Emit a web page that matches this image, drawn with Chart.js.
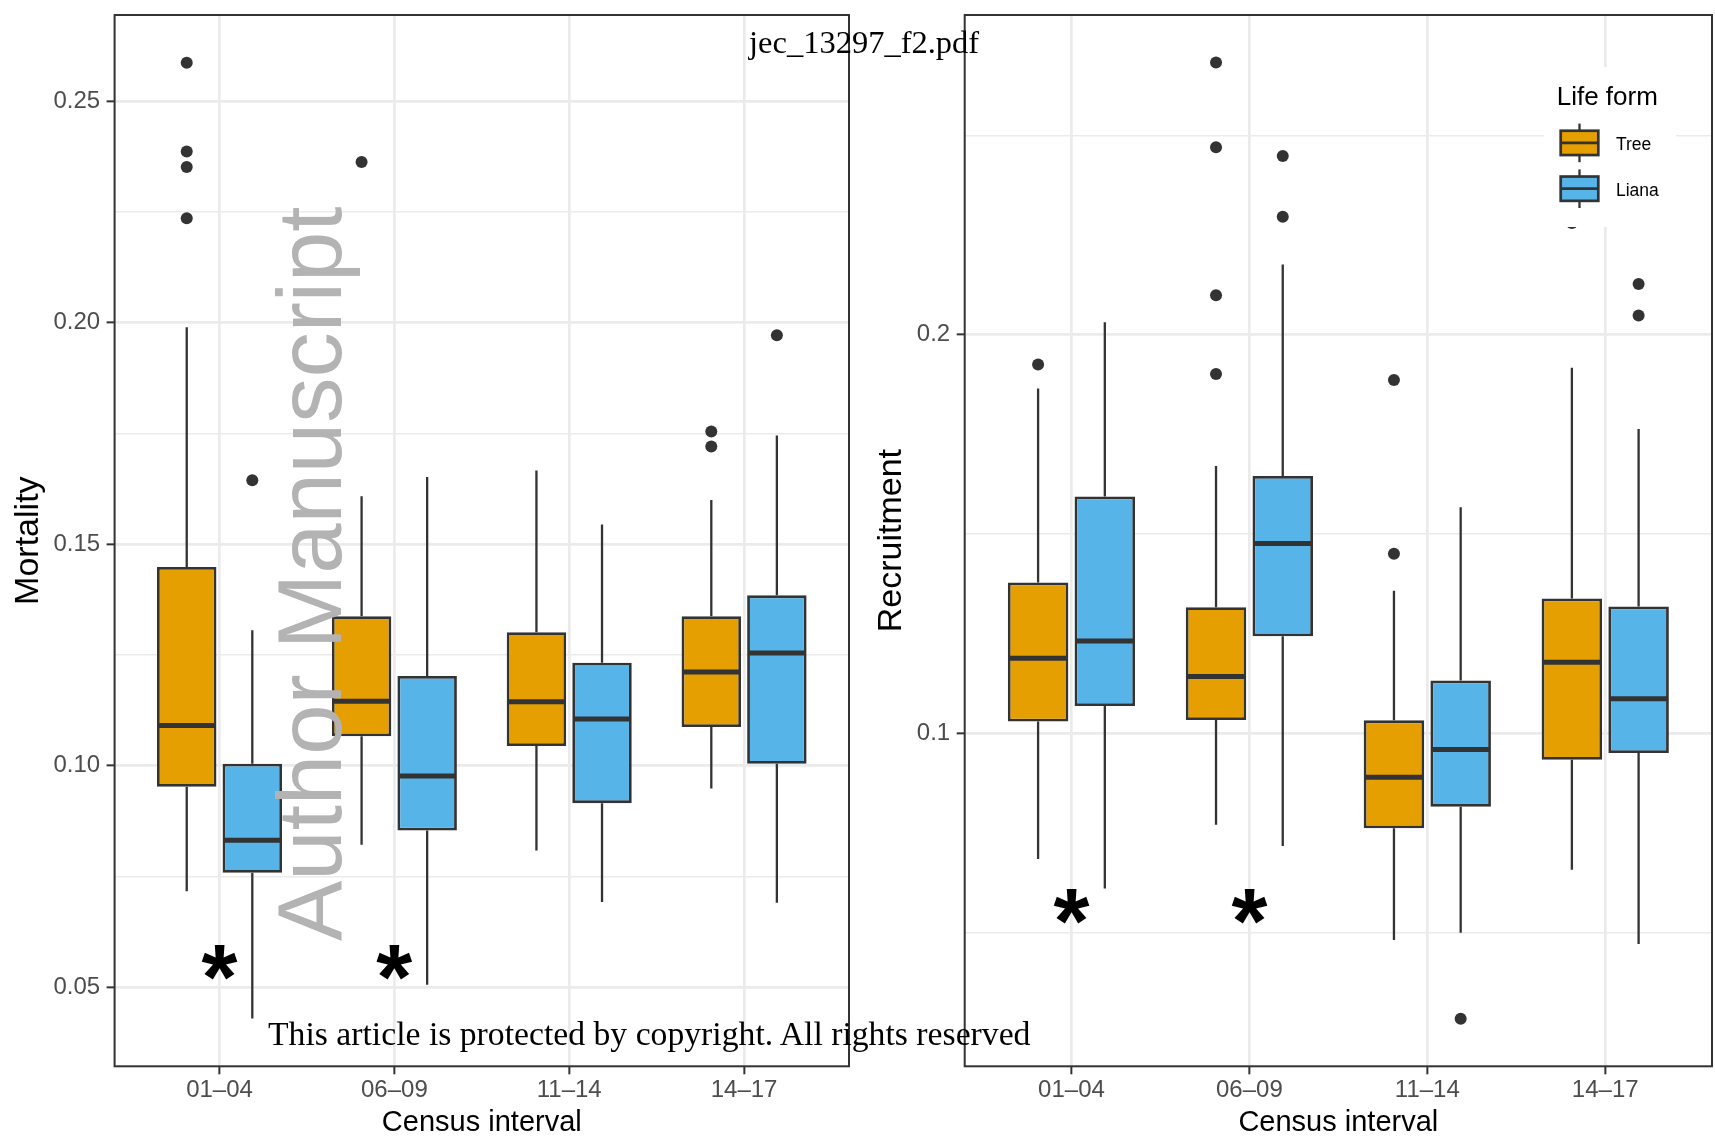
<!DOCTYPE html>
<html><head><meta charset="utf-8">
<script src="https://cdn.jsdelivr.net/npm/chart.js@4.4.0/dist/chart.umd.min.js"></script>
<style>
html,body{margin:0;padding:0;background:#fff;overflow:hidden;}
#page{position:relative;width:1715px;height:1137px;overflow:hidden;background:#fff;}
canvas{position:absolute;top:0;}
.ov{position:absolute;white-space:nowrap;line-height:1;}
#wm{font-family:'Liberation Sans',Arial,sans-serif;font-size:90.5px;color:#b3b3b3;left:265px;top:941px;transform-origin:0 0;transform:rotate(-90deg);}
#jec{font-family:'Liberation Serif','Times New Roman',serif;font-size:32.5px;color:#000;left:749px;top:26px;}
#copy{font-family:'Liberation Serif','Times New Roman',serif;font-size:33.7px;color:#000;left:268px;top:1017px;}
</style></head><body>
<div id="page">
<canvas id="mort" width="857" height="1137" style="left:0px;width:857px;height:1137px"></canvas>
<canvas id="recr" width="858" height="1137" style="left:857px;width:858px;height:1137px"></canvas>
<div class="ov" id="wm">Author Manuscript</div>
<div class="ov" id="jec">jec_13297_f2.pdf</div>
<div class="ov" id="copy">This article is protected by copyright. All rights reserved</div>
</div>
<script>
// ---------------- data ----------------
const categories = ['01–04', '06–09', '11–14', '14–17'];
const seriesNames = ['Tree', 'Liana'];

// Mortality (left panel)
const mortTreeLow    = [0.0716, 0.0821, 0.0808, 0.0948];
const mortTreeQ1     = [0.0952, 0.1066, 0.1044, 0.1087];
const mortTreeMedian = [0.1090, 0.1145, 0.1144, 0.1211];
const mortTreeQ3     = [0.1448, 0.1337, 0.1301, 0.1337];
const mortTreeHigh   = [0.1989, 0.1608, 0.1666, 0.1599];
const mortTreeOut    = [[0.2586, 0.2386, 0.2351, 0.2235], [0.2362], [], [0.1754, 0.1720]];

const mortLianaLow    = [0.0429, 0.0505, 0.0692, 0.0690];
const mortLianaQ1     = [0.0758, 0.0853, 0.0915, 0.1004];
const mortLianaMedian = [0.0831, 0.0976, 0.1105, 0.1254];
const mortLianaQ3     = [0.1004, 0.1202, 0.1232, 0.1384];
const mortLianaHigh   = [0.1305, 0.1651, 0.1544, 0.1745];
const mortLianaOut    = [[0.1644], [], [], [0.1971]];

const mortMajorTicks = [0.05, 0.10, 0.15, 0.20, 0.25];
const mortTickLabels = ['0.05', '0.10', '0.15', '0.20', '0.25'];
const mortMinorTicks = [0.075, 0.125, 0.175, 0.225];
const mortStarCats = ['01–04', '06–09'];
const mortStarY = 0.0555;

// Recruitment (right panel)
const recTreeLow    = [0.0684, 0.0770, 0.0481, 0.0657];
const recTreeQ1     = [0.1029, 0.1033, 0.0761, 0.0933];
const recTreeMedian = [0.1188, 0.1142, 0.0889, 0.1178];
const recTreeQ3     = [0.1378, 0.1316, 0.1032, 0.1338];
const recTreeHigh   = [0.1865, 0.1670, 0.1357, 0.1917];
const recTreeOut    = [[0.1925], [0.2683, 0.2470, 0.2099, 0.1901], [0.1886, 0.1450], [0.2280]];

const recLianaLow    = [0.0610, 0.0717, 0.0499, 0.0471];
const recLianaQ1     = [0.1068, 0.1243, 0.0815, 0.0950];
const recLianaMedian = [0.1231, 0.1476, 0.0959, 0.1086];
const recLianaQ3     = [0.1594, 0.1645, 0.1132, 0.1318];
const recLianaHigh   = [0.2031, 0.2176, 0.1567, 0.1763];
const recLianaOut    = [[], [0.2448, 0.2296], [0.0283], [0.2127, 0.2048]];

const recMajorTicks = [0.1, 0.2];
const recTickLabels = ['0.1', '0.2'];
const recMinorTicks = [0.05, 0.15, 0.25];
const recStarCats = ['01–04', '06–09'];
const recStarY = 0.0564;

// ---------------- styling ----------------
const FONT = "'Liberation Sans', Arial, sans-serif";
const colTree = '#E69F00', colLiana = '#56B4E9', ink = '#333333';
const dodgeWidth = 0.75;       // position_dodge width
const boxFrac = 0.907;         // box width share of dodge slot
Chart.defaults.font.family = FONT;

function boxData(q1, q3) { return q1.map((v, i) => ({ x: i + 1, y: [v, q3[i]] })); }
function outlierData(outs, shift) {
  const pts = [];
  outs.forEach((arr, i) => arr.forEach(v => pts.push({ x: i + 1 + shift, y: v })));
  return pts;
}

function makeChart(id, spec) {
  const canvasLeft = spec.canvasLeft;
  const isMajor = v => spec.major.some(m => Math.abs(m - v) < 1e-9);
  const plugin = {
    id: 'boxExtras',
    beforeDatasetsDraw(chart) {
      const ctx = chart.ctx, ys = chart.scales.y;
      ctx.save();
      ctx.strokeStyle = ink; ctx.lineWidth = 2.3; ctx.lineCap = 'butt';
      spec.series.forEach((s, d) => {
        chart.getDatasetMeta(d).data.forEach((el, i) => {
          const x = el.x;
          ctx.beginPath();
          ctx.moveTo(x, ys.getPixelForValue(s.q3[i])); ctx.lineTo(x, ys.getPixelForValue(s.hi[i]));
          ctx.moveTo(x, ys.getPixelForValue(s.q1[i])); ctx.lineTo(x, ys.getPixelForValue(s.lo[i]));
          ctx.stroke();
        });
      });
      ctx.restore();
    },
    afterDatasetsDraw(chart) {
      const ctx = chart.ctx, ys = chart.scales.y, a = chart.chartArea;
      ctx.save();
      // medians
      ctx.strokeStyle = ink; ctx.lineWidth = 5;
      spec.series.forEach((s, d) => {
        chart.getDatasetMeta(d).data.forEach((el, i) => {
          const y = ys.getPixelForValue(s.med[i]);
          ctx.beginPath();
          ctx.moveTo(el.x - el.width / 2 + 1, y); ctx.lineTo(el.x + el.width / 2 - 1, y);
          ctx.stroke();
        });
      });
      // legend
      if (spec.legend) {
        const L = spec.legend, ox = canvasLeft;
        ctx.fillStyle = '#ffffff';
        ctx.fillRect(L.x0 - ox, L.y0, L.x1 - L.x0, L.y1 - L.y0);
        ctx.fillStyle = '#000';
        ctx.font = `26px ${FONT}`; ctx.textBaseline = 'alphabetic'; ctx.textAlign = 'left';
        ctx.fillText(spec.legendTitle, L.titleX - ox, L.titleBase);
        spec.series.forEach((s, k) => {
          const cy = L.keyCenters[k], cx = (L.keyX0 + L.keyX1) / 2 - ox;
          ctx.strokeStyle = ink; ctx.lineWidth = 2.3;
          ctx.beginPath(); ctx.moveTo(cx, cy - L.whisk); ctx.lineTo(cx, cy + L.whisk); ctx.stroke();
          ctx.fillStyle = s.color;
          ctx.fillRect(L.keyX0 - ox, cy - L.keyH / 2, L.keyX1 - L.keyX0, L.keyH);
          ctx.lineWidth = 2.7;
          ctx.strokeRect(L.keyX0 - ox, cy - L.keyH / 2, L.keyX1 - L.keyX0, L.keyH);
          ctx.beginPath(); ctx.moveTo(L.keyX0 - ox, cy); ctx.lineTo(L.keyX1 - ox, cy); ctx.stroke();
          ctx.fillStyle = '#000'; ctx.font = `17.5px ${FONT}`;
          ctx.fillText(s.name, L.labelX - ox, L.labelBase[k]);
        });
      }
      // panel border
      ctx.strokeStyle = ink; ctx.lineWidth = 2;
      ctx.strokeRect(a.left, a.top, a.right - a.left, a.bottom - a.top);
      ctx.restore();
    },
    afterDraw(chart) {
      const ctx = chart.ctx, xs = chart.scales.x, ys = chart.scales.y;
      ctx.save();
      ctx.font = `bold 100px ${FONT}`;
      const m0 = ctx.measureText('*');
      const w0 = m0.actualBoundingBoxLeft + m0.actualBoundingBoxRight;
      const size = 100 * 36 / w0;
      ctx.font = `bold ${size}px ${FONT}`;
      const m = ctx.measureText('*');
      ctx.fillStyle = '#000'; ctx.textAlign = 'left'; ctx.textBaseline = 'alphabetic';
      spec.starCats.forEach(c => {
        const tx = xs.getPixelForValue(categories.indexOf(c) + 1);
        const ty = ys.getPixelForValue(spec.starY);
        const x = tx - (m.actualBoundingBoxRight - m.actualBoundingBoxLeft) / 2;
        const y = ty + (m.actualBoundingBoxAscent - m.actualBoundingBoxDescent) / 2;
        ctx.fillText('*', x, y);
      });
      ctx.restore();
    }
  };

  const datasets = [];
  spec.series.forEach(s => datasets.push({
    type: 'bar', label: s.name, data: boxData(s.q1, s.q3),
    backgroundColor: s.color, borderColor: ink, borderWidth: 2.8, borderSkipped: false,
    categoryPercentage: dodgeWidth, barPercentage: boxFrac, grouped: true
  }));
  spec.series.forEach((s, k) => datasets.push({
    type: 'scatter', label: s.name + ' outliers',
    data: outlierData(s.out, (k === 0 ? -1 : 1) * dodgeWidth / 4),
    pointRadius: 6, pointHoverRadius: 6, pointBackgroundColor: ink, pointBorderWidth: 0
  }));

  return new Chart(document.getElementById(id), {
    type: 'bar',
    data: { datasets },
    plugins: [plugin],
    options: {
      responsive: false, animation: false, devicePixelRatio: 1, events: [],
      layout: { autoPadding: false, padding: { left: 0, top: 15, right: spec.padRight, bottom: 0 } },
      plugins: { legend: { display: false }, tooltip: { enabled: false } },
      scales: {
        x: {
          type: 'linear', min: 0.4, max: 4.6, offset: false,
          afterBuildTicks: s => { s.ticks = categories.map((c, i) => ({ value: i + 1 })); },
          ticks: { callback: v => categories[Math.round(v) - 1], color: '#4D4D4D',
                   font: { size: 24, lineHeight: 1 }, padding: 4, maxRotation: 0, autoSkip: false },
          grid: { offset: false, color: '#EBEBEB', lineWidth: 2.7, tickColor: ink, tickLength: 8, tickWidth: 2 },
          border: { display: false },
          title: { display: true, text: 'Census interval', color: '#000',
                   font: { size: 29, lineHeight: 1 }, padding: { top: 0, bottom: 0 } },
          afterFit: s => { s.height = 70.7; s.paddingLeft = 0; s.paddingRight = 0; }
        },
        y: {
          type: 'linear', min: spec.yMin, max: spec.yMax, beginAtZero: false,
          afterBuildTicks: s => {
            s.ticks = spec.major.concat(spec.minor).sort((p, q) => p - q).map(v => ({ value: v }));
          },
          ticks: {
            callback: v => { const k = spec.major.findIndex(mm => Math.abs(mm - v) < 1e-9); return k >= 0 ? spec.labels[k] : ''; },
            color: '#4D4D4D', font: { size: 24, lineHeight: 1 }, padding: 6.5, autoSkip: false
          },
          grid: {
            color: '#EBEBEB',
            lineWidth: c => (c.tick && isMajor(c.tick.value)) ? 2.7 : 1.4,
            tickColor: c => (c.tick && isMajor(c.tick.value)) ? ink : 'rgba(0,0,0,0)',
            tickLength: 8, tickWidth: 2
          },
          border: { display: false },
          title: { display: true, text: spec.yTitle, color: '#000',
                   font: { size: 34, lineHeight: 1 }, padding: { top: spec.titlePad, bottom: 0 } },
          afterFit: s => { s.width = spec.yAxisWidth; s.paddingTop = 0; s.paddingBottom = 0; }
        }
      }
    }
  });
}

makeChart('mort', {
  canvasLeft: 0, padRight: 8, yAxisWidth: 114.6, titlePad: 11.8,
  yMin: 0.0321, yMax: 0.2694, yTitle: 'Mortality',
  major: mortMajorTicks, labels: mortTickLabels, minor: mortMinorTicks,
  starCats: mortStarCats, starY: mortStarY,
  series: [
    { name: seriesNames[0], color: colTree, lo: mortTreeLow, q1: mortTreeQ1, med: mortTreeMedian, q3: mortTreeQ3, hi: mortTreeHigh, out: mortTreeOut },
    { name: seriesNames[1], color: colLiana, lo: mortLianaLow, q1: mortLianaQ1, med: mortLianaMedian, q3: mortLianaQ3, hi: mortLianaHigh, out: mortLianaOut }
  ]
});

makeChart('recr', {
  canvasLeft: 857, padRight: 3, yAxisWidth: 107.7, titlePad: 17.5,
  yMin: 0.01639, yMax: 0.2802, yTitle: 'Recruitment',
  major: recMajorTicks, labels: recTickLabels, minor: recMinorTicks,
  starCats: recStarCats, starY: recStarY,
  legendTitle: 'Life form',
  legend: { x0: 1544, y0: 67, x1: 1676, y1: 227, titleX: 1556.7, titleBase: 104.8,
            keyX0: 1560.7, keyX1: 1598.3, keyH: 24.3, keyCenters: [142.9, 188.7], whisk: 19.3,
            labelX: 1616, labelBase: [150, 195.9] },
  series: [
    { name: seriesNames[0], color: colTree, lo: recTreeLow, q1: recTreeQ1, med: recTreeMedian, q3: recTreeQ3, hi: recTreeHigh, out: recTreeOut },
    { name: seriesNames[1], color: colLiana, lo: recLianaLow, q1: recLianaQ1, med: recLianaMedian, q3: recLianaQ3, hi: recLianaHigh, out: recLianaOut }
  ]
});
</script>
</body></html>
